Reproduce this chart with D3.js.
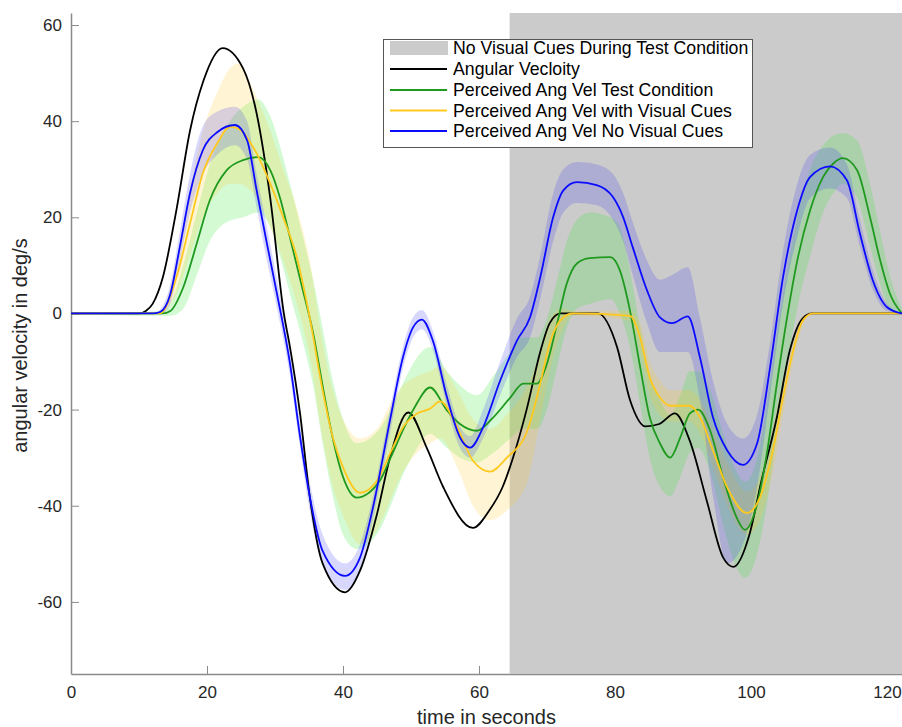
<!DOCTYPE html>
<html>
<head>
<meta charset="utf-8">
<script src="https://cdn.jsdelivr.net/npm/d3@7"></script>
<style>
  html, body { margin: 0; padding: 0; background: #fff; }
  svg { display: block; font-family: "Liberation Sans", Arial, Helvetica, sans-serif; }
</style>
</head>
<body>
<svg id="chart" width="902" height="727"></svg>
<script>
// ---------------- DATA ----------------
const xTicks = [0, 20, 40, 60, 80, 100, 120];
const yTicks = [-60, -40, -20, 0, 20, 40, 60];
const noCueStart = 64.5;

const legendLabels = [
  "No Visual Cues During Test Condition",
  "Angular Vecloity",
  "Perceived Ang Vel Test Condition",
  "Perceived Ang Vel with Visual Cues",
  "Perceived Ang Vel No Visual Cues"
];

// Angular velocity (black)
const tBlack = [0, 10, 11, 12, 13.5, 15.5, 17.5, 19.5, 22.3, 25.3, 27.3, 29.3, 31.3, 32.2, 33.7, 35.1, 37, 40.3, 42.5, 45, 46.9, 49.6, 52.3, 54.7, 59.1, 61.5, 63.5, 65, 67, 69, 70.4, 72, 77.5, 80.3, 82.2, 84.5, 86.5, 88.8, 91, 93.5, 95.9, 97.4, 99.8, 101.5, 103.8, 105.7, 107.6, 109, 122.2];
const vBlack = [0, 0, 0.5, 2, 7.5, 21.5, 38, 48.5, 55.2, 51, 41.6, 24, 0, -7, -21, -38, -52, -58, -53.5, -41.7, -30, -20.6, -27.9, -36, -44.6, -41, -36, -30, -20, -8, -2, 0, 0, -7, -18, -23.5, -23, -20.8, -26.5, -39, -50.8, -52.7, -45.8, -35, -21.6, -7.7, -1, 0, 0];

// Perceived Ang Vel Test Condition (green)
const tGreen = [0, 13.5, 14.6, 16.5, 18.5, 20.4, 22.9, 25.3, 27.5, 29.3, 30.7, 32.2, 34.1, 35.6, 37, 38.5, 40, 42, 45.4, 47, 49, 50.5, 52.8, 55.3, 57.2, 59.7, 62.1, 64.6, 66.5, 68.5, 70, 71.5, 72.9, 74.4, 76.3, 79.3, 80.7, 82.2, 83.7, 85.1, 86.6, 88.1, 89.6, 91, 92.2, 94, 95.9, 97.9, 99.1, 100.9, 102.4, 103.8, 105.3, 106.8, 108.7, 110.6, 112.1, 113.5, 115.6, 117.5, 119, 120.4, 122.2];
const vGreen = [0, 0, 0.5, 5.4, 14.6, 23.5, 29.8, 31.9, 32.5, 29.8, 24.2, 15.8, 4.8, -4, -15, -26, -34, -38.3, -34.8, -30, -23.7, -19.6, -15.4, -20.2, -23, -24.4, -21.6, -17.5, -14.6, -14.6, -10.4, -2, 6.2, 10.4, 11.5, 11.7, 9, 0.6, -11.2, -21.6, -27, -30, -25.8, -20.8, -20, -24.4, -34.2, -42.5, -45, -39.6, -28.5, -14.6, -0.8, 11, 21.5, 28.4, 31.2, 32.3, 29.8, 20, 11, 4.2, 0];
const loGreen = [0, -0.5, -0.5, 1, 8, 15, 19, 20, 21, 18, 12, 4, -6, -15, -27, -38, -46, -49, -45, -40, -33, -29, -25, -28, -30, -31, -29, -26, -24, -24, -20, -11, -3, 1, 2, 3, 0, -7, -19, -30, -36, -38, -34, -29, -28, -33, -44, -53, -55, -50, -39, -25, -11, 1, 12, 21, 25, 27, 24, 14, 6, 1, 0];
const hiGreen = [0, 0.5, 2, 10, 21, 31, 39, 43, 44.5, 41, 35, 27, 16, 7, -3, -14, -22, -27, -24, -20, -14, -10, -7, -12, -15, -17, -13, -8, -5, -5, -1, 7, 15, 19.5, 21, 20, 18, 9, -3, -13, -18, -21, -17, -12, -12, -16, -25, -33, -35, -30, -18, -4, 9, 20, 30, 35, 37, 37.5, 36, 27, 17, 8, 1];

// Perceived Ang Vel with Visual Cues (yellow)
const tYellow = [0, 13.1, 15.5, 17.5, 19.4, 21.5, 23.4, 24.5, 27.3, 29.3, 31.2, 33.2, 35.1, 37, 38.5, 40, 42.5, 45, 46.9, 48.8, 50.9, 52.8, 54.3, 56.8, 59.1, 61.6, 64.1, 67.1, 69, 70.4, 72.4, 73.8, 82.2, 83.7, 85.1, 86.6, 88.1, 91, 92.5, 94.4, 96.5, 99.4, 101.3, 103.2, 104.7, 106.2, 107.6, 109.1, 122.2];
const vYellow = [0, 0, 7.5, 18.7, 29.2, 35.4, 38.8, 38.5, 33.3, 27, 20, 11.7, -0.8, -16, -25.8, -32, -37.3, -34.8, -29.2, -23.7, -20.8, -19.8, -18.3, -23.7, -30.6, -32.9, -30, -24.4, -14.6, -6.2, -0.8, 0, -0.5, -5, -13.3, -17.5, -19.2, -19.2, -21.6, -28.5, -36.2, -41.5, -38.3, -28.5, -17.5, -7.7, -1.5, 0, 0];
const loYellow = [0, 0, 4, 12, 20, 25, 27, 27, 24, 18, 11, 2, -9, -26, -36, -42, -48, -45, -39, -33, -29, -27, -26, -32, -40, -43, -41, -35, -22, -12, -3, -0.5, -1.5, -8, -17, -21, -22.5, -22.5, -25, -32, -40, -46, -43, -33, -21, -10, -2.5, 0, 0];
const hiYellow = [0, 0, 11, 26, 38, 46, 51, 52, 45, 38, 30, 22, 11, -6, -16, -22, -26, -24, -19, -15, -13, -12, -11, -16, -22, -24, -21, -15, -8, -1, 1, 0.5, 0.5, -2, -10, -14, -16, -16, -18, -24, -31, -37, -34, -24, -14, -5, -0.5, 0, 0];

// Perceived Ang Vel No Visual Cues (blue)
const tBlue = [0, 12, 13.1, 14.6, 16, 17.5, 19.4, 21.5, 24.1, 25.9, 27.3, 28.8, 30.3, 32.2, 33.7, 35.1, 37, 40.3, 42.5, 44.4, 46.9, 48.8, 50.3, 51.6, 53.2, 55.3, 57.2, 58.7, 60.6, 63.1, 65.6, 67.5, 69, 70.9, 72.4, 74.4, 77.3, 79.7, 81.2, 82.6, 84.7, 86.6, 88.4, 90.7, 92.5, 94.4, 96.5, 98.8, 100.9, 102.8, 104.7, 106.8, 108.7, 111.6, 114.1, 116, 117.9, 120, 122.2];
const vBlue = [0, 0, 0.3, 4, 13.8, 25, 34, 37.7, 39.2, 36, 25.6, 14.6, 4, -10.4, -25.8, -38, -49.4, -54.6, -50.8, -40.4, -22.3, -9.2, -2.9, -1.3, -5.6, -17.5, -25.8, -27.9, -23.7, -14, -5.6, -0.8, 7.5, 20, 25.6, 27.3, 26.7, 24.2, 20, 13.8, 4.8, -0.8, -2, -0.6, -9.2, -21.6, -28.5, -31.5, -27, -11.2, 7.5, 21.5, 28.4, 30.6, 27.7, 16.7, 6.9, 1.3, 0];
const loBlue = [0, 0, -0.3, 2, 11, 21, 29, 33, 35, 32, 22, 11, 1, -13, -28, -41, -52, -57.5, -53.5, -43, -25, -11.5, -5, -3.3, -7.6, -19.5, -28, -30, -26, -17, -9, -5, 3, 15, 21, 23, 22.5, 19.5, 15, 8, -2, -8, -8, -8, -18, -38, -52, -48, -36, -17, 2, 16, 24, 26, 24, 14, 5, 0.5, 0];
const hiBlue = [0, 0, 0.8, 6, 17, 29, 39, 42, 43, 40, 29, 18, 7, -8, -23, -35, -46, -52, -48, -38, -20, -7, -0.8, 0.7, -3.6, -15, -23.5, -25.5, -20, -10, -1, 3.5, 12, 25, 30, 31.5, 31, 29, 25, 19, 11, 7, 8, 9.6, -1, -14, -23, -26, -21, -6, 13, 27, 33, 34.5, 31, 19.5, 9, 2, 0];

// ---------------- CHART ----------------
const svg = d3.select("#chart");
const x = d3.scaleLinear().domain([0, 122.2]).range([71, 902]);
const y = d3.scaleLinear().domain([-75, 62.5]).range([674, 13]);

const colors = {
  black: "#000000",
  green: "#1f9a1f",
  yellow: "#ffc81e",
  blue: "#0b0bff",
  gray: "#cbcbcb",
  greenBand: "rgba(60,230,60,0.22)",
  yellowBand: "rgba(255,205,40,0.2)",
  blueBand: "rgba(40,40,255,0.18)"
};

// axes (drawn beneath data, like MATLAB default layer)
const axisColor = "#8a8a8a";
const gx = svg.append("g").attr("transform", `translate(0,${y(-75)})`)
  .call(d3.axisBottom(x).tickValues(xTicks).tickSizeInner(-8).tickSizeOuter(0).tickPadding(11).tickFormat(d3.format("d")));
const gy = svg.append("g").attr("transform", `translate(${x(0)},0)`)
  .call(d3.axisLeft(y).tickValues(yTicks).tickSizeInner(-8).tickSizeOuter(0).tickPadding(9).tickFormat(d => d3.format("d")(d).replace("\u2212", "-")));
[gx, gy].forEach(g => {
  g.select(".domain").attr("stroke", axisColor).attr("stroke-width", 1.5);
  g.selectAll(".tick line").attr("stroke", axisColor).attr("stroke-width", 1);
  g.selectAll(".tick text").attr("fill", "#262626").style("font-size", "17px")
    .style("font-family", "'Liberation Sans', Arial, Helvetica, sans-serif");
});
gx.selectAll(".tick text").attr("dy", "0.75em");

// gray "no visual cues" region
svg.append("rect")
  .attr("x", x(noCueStart)).attr("y", y(62.5))
  .attr("width", x(122.2) - x(noCueStart)).attr("height", y(-75) - y(62.5))
  .attr("fill", colors.gray);

// bands
function band(ts, lo, hi, fill) {
  const pts = ts.map((t, i) => [t, lo[i], hi[i]]);
  svg.append("path").datum(pts)
    .attr("fill", fill).attr("stroke", "none")
    .attr("d", d3.area().curve(d3.curveMonotoneX)
      .x(d => x(d[0])).y0(d => y(d[1])).y1(d => y(d[2])));
}
band(tGreen, loGreen, hiGreen, colors.greenBand);
band(tYellow, loYellow, hiYellow, colors.yellowBand);
band(tBlue, loBlue, hiBlue, colors.blueBand);

// lines
function line(ts, vs, stroke) {
  const pts = ts.map((t, i) => [t, vs[i]]);
  svg.append("path").datum(pts)
    .attr("fill", "none").attr("stroke", stroke).attr("stroke-width", 1.8)
    .attr("stroke-linejoin", "round")
    .attr("d", d3.line().curve(d3.curveMonotoneX).x(d => x(d[0])).y(d => y(d[1])));
}
line(tBlack, vBlack, colors.black);
line(tGreen, vGreen, colors.green);
line(tYellow, vYellow, colors.yellow);
line(tBlue, vBlue, colors.blue);

// axis titles
svg.append("text")
  .attr("x", (x(0) + x(122.2)) / 2).attr("y", 724)
  .attr("text-anchor", "middle").attr("fill", "#262626")
  .style("font-size", "20px").text("time in seconds");
svg.append("text")
  .attr("transform", `translate(20,${(y(62.5) + y(-75)) / 2 + 2}) rotate(-90)`)
  .attr("dy", "0.35em")
  .attr("text-anchor", "middle").attr("fill", "#262626")
  .style("font-size", "20px").text("angular velocity in deg/s");

// legend
const lg = svg.append("g");
lg.append("rect").attr("x", 383.5).attr("y", 39.5).attr("width", 369).attr("height", 108)
  .attr("fill", "#fff").attr("stroke", "#555").attr("stroke-width", 1);
const rowY = [48, 69, 90, 110.5, 131];
const legendStroke = [null, colors.black, colors.green, colors.yellow, colors.blue];
legendLabels.forEach((lab, i) => {
  if (i === 0) {
    lg.append("rect").attr("x", 390).attr("y", rowY[i] - 7).attr("width", 58).attr("height", 14)
      .attr("fill", colors.gray);
  } else {
    lg.append("line").attr("x1", 390).attr("x2", 447).attr("y1", rowY[i]).attr("y2", rowY[i])
      .attr("stroke", legendStroke[i]).attr("stroke-width", 1.8);
  }
  lg.append("text").attr("x", 453).attr("y", rowY[i]).attr("dy", "0.35em")
    .attr("fill", "#000").style("font-size", "17.7px").text(lab);
});
</script>
</body>
</html>
